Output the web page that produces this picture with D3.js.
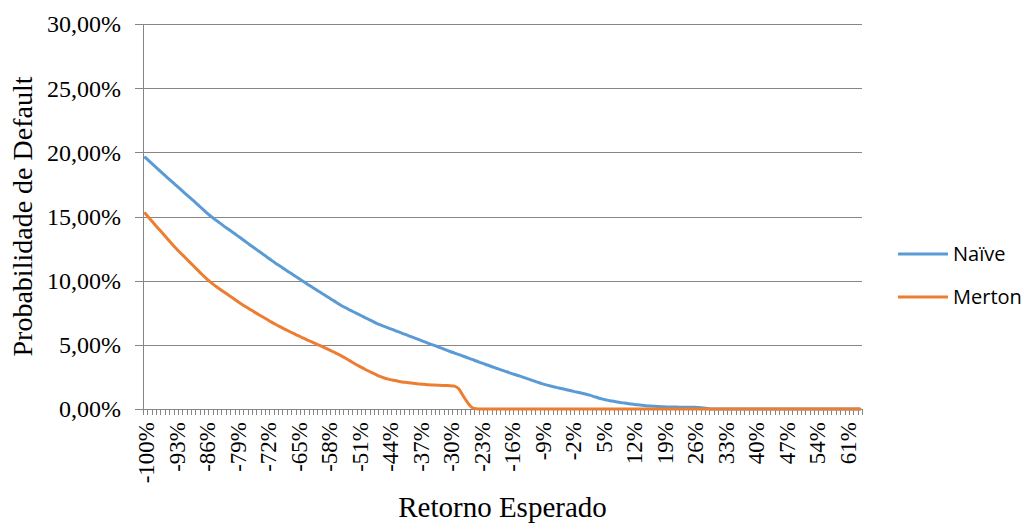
<!DOCTYPE html>
<html>
<head>
<meta charset="utf-8">
<script src="https://cdn.jsdelivr.net/npm/d3@7"></script>
<style>
  body { margin: 0; background: #fff; }
  svg text { fill: #000; }
</style>
</head>
<body>
<div id="wrapper"></div>
<script>
// categories: expected return, -100% .. 64%
const categories = d3.range(-100, 65);

// Naive default probability (%)
const naive = [
  19.60, 19.29, 18.98, 18.67, 18.36, 18.05, 17.75, 17.45, 17.15, 16.85,
  16.55, 16.25, 15.94, 15.64, 15.33, 15.04, 14.78, 14.52, 14.27, 14.03,
  13.79, 13.55, 13.30, 13.05, 12.80, 12.56, 12.31, 12.07, 11.83, 11.58,
  11.34, 11.12, 10.89, 10.67, 10.45, 10.22, 10.00, 9.78, 9.56, 9.35,
  9.13, 8.92, 8.70, 8.49, 8.28, 8.07, 7.89, 7.71, 7.54, 7.37,
  7.20, 7.03, 6.86, 6.69, 6.55, 6.42, 6.29, 6.16, 6.03, 5.90,
  5.77, 5.64, 5.51, 5.38, 5.25, 5.12, 5.00, 4.87, 4.74, 4.61,
  4.48, 4.36, 4.24, 4.11, 3.99, 3.86, 3.74, 3.61, 3.49, 3.37,
  3.24, 3.13, 3.01, 2.90, 2.78, 2.67, 2.56, 2.44, 2.33, 2.21,
  2.10, 1.98, 1.88, 1.79, 1.71, 1.63, 1.56, 1.48, 1.40, 1.32,
  1.25, 1.17, 1.08, 0.97, 0.86, 0.77, 0.69, 0.63, 0.57, 0.51,
  0.46, 0.41, 0.37, 0.33, 0.30, 0.26, 0.23, 0.21, 0.19, 0.17,
  0.16, 0.15, 0.15, 0.14, 0.14, 0.13, 0.13, 0.12, 0.08, 0.04,
  0, 0, 0, 0, 0, 0, 0, 0, 0, 0,
  0, 0, 0, 0, 0, 0, 0, 0, 0, 0,
  0, 0, 0, 0, 0, 0, 0, 0, 0, 0,
  0, 0, 0, 0, 0
];

// Merton default probability (%)
const merton = [
  15.25, 14.85, 14.46, 14.07, 13.69, 13.30, 12.92, 12.55, 12.20, 11.86,
  11.52, 11.18, 10.84, 10.50, 10.18, 9.88, 9.61, 9.37, 9.13, 8.90,
  8.67, 8.44, 8.21, 7.99, 7.78, 7.57, 7.37, 7.17, 6.97, 6.77,
  6.58, 6.40, 6.23, 6.06, 5.89, 5.73, 5.57, 5.41, 5.26, 5.11,
  4.96, 4.80, 4.64, 4.48, 4.31, 4.14, 3.95, 3.75, 3.55, 3.36,
  3.18, 3.00, 2.83, 2.67, 2.52, 2.40, 2.31, 2.24, 2.17, 2.11,
  2.07, 2.03, 1.99, 1.95, 1.92, 1.89, 1.87, 1.85, 1.84, 1.83,
  1.82, 1.78, 1.55, 1.00, 0.50, 0.12, 0.02, 0, 0, 0,
  0, 0, 0, 0, 0, 0, 0, 0, 0, 0,
  0, 0, 0, 0, 0, 0, 0, 0, 0, 0,
  0, 0, 0, 0, 0, 0, 0, 0, 0, 0,
  0, 0, 0, 0, 0, 0, 0, 0, 0, 0,
  0, 0, 0, 0, 0, 0, 0, 0, 0, 0,
  0, 0, 0, 0, 0, 0, 0, 0, 0, 0,
  0, 0, 0, 0, 0, 0, 0, 0, 0, 0,
  0, 0, 0, 0, 0, 0, 0, 0, 0, 0,
  0, 0, 0, 0, 0
];

const yTicks = [0, 5, 10, 15, 20, 25, 30];
const seriesNames = ["Naïve", "Merton"];
const colors = ["#5B9BD5", "#ED7D31"];

let dimensions = {
  width: 1026,
  height: 523,
  margin: { top: 24, right: 164, bottom: 114, left: 143 },
}
dimensions.boundedWidth = dimensions.width - dimensions.margin.left - dimensions.margin.right;
dimensions.boundedHeight = dimensions.height - dimensions.margin.top - dimensions.margin.bottom;

const svg = d3.select("#wrapper").append("svg")
  .attr("width", dimensions.width)
  .attr("height", dimensions.height);

const bounds = svg.append("g")
  .attr("transform", `translate(${dimensions.margin.left},${dimensions.margin.top})`);

const xScale = d3.scaleBand()
  .domain(categories)
  .range([0, dimensions.boundedWidth]);

const yScale = d3.scaleLinear()
  .domain([0, 30])
  .range([dimensions.boundedHeight, 0]);

const serif = "'Liberation Serif', 'Times New Roman', serif";
const gridColor = "#868686";

// horizontal gridlines
bounds.append("g").selectAll("line")
  .data(yTicks)
  .join("line")
  .attr("x1", -8)
  .attr("x2", dimensions.boundedWidth)
  .attr("y1", d => Math.round(yScale(d)) + 0.5)
  .attr("y2", d => Math.round(yScale(d)) + 0.5)
  .attr("stroke", gridColor)
  .attr("stroke-width", 1);

// y axis line
bounds.append("line")
  .attr("x1", 0.5).attr("x2", 0.5)
  .attr("y1", 0).attr("y2", dimensions.boundedHeight)
  .attr("stroke", gridColor);

// y labels
bounds.append("g").selectAll("text")
  .data(yTicks)
  .join("text")
  .attr("x", -22)
  .attr("y", d => yScale(d))
  .attr("dy", "0.35em")
  .attr("text-anchor", "end")
  .style("font-family", serif)
  .style("font-size", "24px")
  .text(d => d3.format(".2f")(d).replace(".", ",") + "%");

// x ticks at category boundaries
const boundaries = categories.map(c => xScale(c)).concat([dimensions.boundedWidth]);
bounds.append("g").selectAll("line")
  .data(boundaries)
  .join("line")
  .attr("x1", d => Math.round(d) + 0.5)
  .attr("x2", d => Math.round(d) + 0.5)
  .attr("y1", dimensions.boundedHeight)
  .attr("y2", dimensions.boundedHeight + 6)
  .attr("stroke", gridColor);

// x labels every 7th category
const labelCats = categories.filter((c, i) => i % 7 === 0);
bounds.append("g").selectAll("text")
  .data(labelCats)
  .join("text")
  .attr("transform", d => `translate(${xScale(d) + xScale.bandwidth() / 2 + 1},${dimensions.boundedHeight + 13}) rotate(-90)`)
  .attr("dy", "0.35em")
  .attr("text-anchor", "end")
  .style("font-family", serif)
  .style("font-size", "23px")
  .text(d => d + "%");

// lines
const seriesData = [naive, merton];
const lineGenerator = d3.line()
  .x((d, i) => xScale(categories[i]) + xScale.bandwidth() / 2)
  .y(d => yScale(d))
  .curve(d3.curveMonotoneX);

bounds.append("g").selectAll("path")
  .data(seriesData)
  .join("path")
  .attr("d", d => lineGenerator(d))
  .attr("fill", "none")
  .attr("stroke", (d, i) => colors[i])
  .attr("stroke-width", 3)
  .attr("stroke-linejoin", "round")
  .attr("stroke-linecap", "round");

// axis titles
svg.append("text")
  .attr("x", dimensions.margin.left + dimensions.boundedWidth / 2)
  .attr("y", 517)
  .attr("text-anchor", "middle")
  .style("font-family", serif)
  .style("font-size", "29px")
  .text("Retorno Esperado");

svg.append("text")
  .attr("transform", `translate(32,${dimensions.margin.top + dimensions.boundedHeight / 2}) rotate(-90)`)
  .attr("text-anchor", "middle")
  .style("font-family", serif)
  .style("font-size", "28px")
  .text("Probabilidade de Default");

// legend
const legend = svg.append("g").attr("transform", "translate(898,254)");
const legendItems = legend.selectAll("g")
  .data(seriesNames)
  .join("g")
  .attr("transform", (d, i) => `translate(0,${i * 43})`);
legendItems.append("line")
  .attr("x1", 0).attr("x2", 50)
  .attr("stroke", (d, i) => colors[i])
  .attr("stroke-width", 3);
legendItems.append("text")
  .attr("x", 55)
  .attr("dy", "0.35em")
  .style("font-family", "'Open Sans', sans-serif")
  .style("font-size", "20px")
  .text(d => d);
</script>
</body>
</html>
